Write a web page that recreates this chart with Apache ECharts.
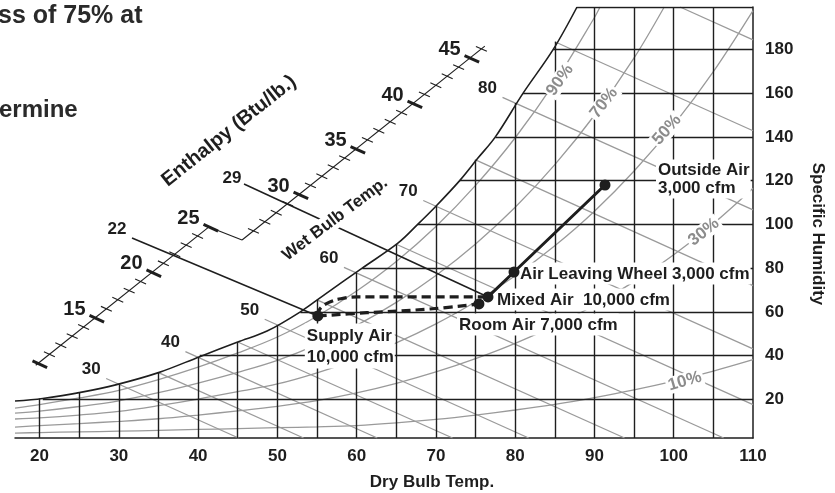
<!DOCTYPE html>
<html>
<head>
<meta charset="utf-8">
<script src="https://cdn.jsdelivr.net/npm/echarts@6/dist/echarts.min.js"></script>
<style>
html,body{margin:0;padding:0;background:#fff;}
#chart{width:835px;height:493px;}
</style>
</head>
<body>
<div id="chart"></div>
<script>
// ---------------- DATA ----------------
const xTickLabels = [20, 30, 40, 50, 60, 70, 80, 90, 100, 110];
const yTickLabels = [20, 40, 60, 80, 100, 120, 140, 160, 180];

// dry-bulb grid lines: [dry bulb, humidity where the line meets the saturation curve]
const dryBulbGrid = [[20,20.4],[25,23.2],[30,26.9],[35,32.2],[40,39.2],[45,46.2],[50,54],[55,65.5],[60,77.7],[65,90.9],[70,108.3],[75,129.5],[80,155.5],[85,183.5],[90,199.4],[95,199.4],[100,199.4],[105,199.4]];
// specific-humidity grid lines: [humidity, dry bulb where the line leaves the saturation curve]
const humidityGrid = [[20,20.4],[40,40.2],[60,52.9],[80,60.7],[100,67.7],[120,73],[140,77.5],[160,81],[180,84.8]];

const saturationCurve = [[16.9,19.2],[20.4,20.4],[25.5,23.4],[29.6,26.6],[35,32.2],[40.2,39.5],[45,46.2],[48.7,51.2],[52.9,60],[56,68],[60.7,80],[65.2,91.4],[67.7,100],[70,108.3],[73,120],[75.3,130.3],[77.5,140],[81,160],[84.8,180],[87.8,199.4]];

const rh90 = [[16.9,16],[20,17.6],[25,20.6],[30,24.1],[35,29],[40,34.7],[45,41.2],[50,48.5],[55,58],[60,69.5],[65,83],[70,99],[75,117.8],[80,139.6],[85,165],[90,194.6],[90.7,199.4]];
const rh70 = [[16.9,13.7],[20,14.6],[25,16.7],[30,19.3],[35,23],[40,27.4],[45,32.3],[50,37.8],[55,45],[60,53.8],[65,64.3],[70,76.6],[75,91],[80,107.8],[85,127.3],[90,149.9],[95,176.1],[98.8,199.4]];
const rh50 = [[16.9,11],[20,11.5],[25,12.8],[30,14.5],[35,17.1],[40,20.1],[45,23.5],[50,27],[55,32.1],[60,38.3],[65,45.8],[70,54.5],[75,64.6],[80,76.5],[85,90.2],[90,106],[95,124.4],[100,145.5],[105,169.8],[110,197.7]];
const rh30 = [[16.9,7.3],[20,8],[25,8.9],[30,9.9],[35,11.1],[40,12.8],[45,14.7],[50,16.8],[55,19.4],[60,22.9],[65,27.3],[70,32.5],[75,38.6],[80,45.6],[85,53.7],[90,63],[95,73.8],[100,86.1],[105,100.3],[110,116.5]];
const rh10 = [[16.9,4.5],[20,4.8],[25,5.1],[30,5.4],[35,5.8],[40,6.2],[45,6.6],[50,7],[55,7.4],[60,8],[65,9.2],[70,10.8],[75,12.8],[80,15.1],[85,17.7],[90,20.8],[95,24.3],[100,28.3],[105,32.9],[110,38.1]];
const rhCurves = [rh10, rh30, rh50, rh70, rh90];
const rhLabels = ['10%', '30%', '50%', '70%', '90%'];
const rhLabelPoints = [[101.4,28.2],[103.8,96.5],[99.15,143.2],[91.2,155.5],[85.65,166]];

const wetBulbTemps  = [30, 35, 40, 45, 50, 55, 60, 65, 70, 75, 80, 85, 90];
const wetBulbStarts = [[28.4,29.5],[35,32.2],[38.4,41.8],[45,46.2],[48.4,56.6],[55,65.5],[58.4,80.3],[65,90.9],[68.4,110.9],[75,129.5],[78.4,158.1],[85,183.5],[100.8,199.4]];
const wetBulbEnds   = [[45.1,2.3],[53.3,2.3],[62.6,2.3],[72.1,2.3],[81.7,2.3],[93.8,2.3],[106.3,2.3],[110,17.6],[110,43.1],[110,72],[110,106.6],[110,142.8],[110,184.4]];
const wetBulbLabelled = [30, 40, 50, 60, 70, 80];

const enthalpyLowerRange = [10, 25];
const enthalpyUpperRange = [25, 46];
const enthalpyLabels = [15, 20, 25, 30, 35, 40, 45];

const enthalpyLineNames  = ['22', '29'];
const enthalpyLineStarts = [[31.66,93.76],[45.79,118.46]];

const pointNames  = ['Supply Air', 'Room Air', 'Mixed Air', 'Air Leaving Wheel', 'Outside Air'];
const pointValues = [[55.1,58.1],[75.43,63.6],[76.57,66.8],[79.85,78.2],[91.33,118]];
const annotationLabels = ['Supply Air\n10,000 cfm', 'Room Air 7,000 cfm', 'Mixed Air  10,000 cfm', 'Air Leaving Wheel 3,000 cfm', 'Outside Air\n3,000 cfm'];

const supplyToMixed = [[55.1,58.1],[55.4,61.5],[56.5,64.3],[58,66],[60.1,66.8],[76.57,66.8]];
const supplyToRoom  = [[55.1,58.1],[61.3,59.6],[69.25,61.3],[75.43,63.6]];

// ---------------- LAYOUT / STYLE ----------------
const X_MIN = 16.9, X_MAX = 110, Y_MIN = 2.3, Y_MAX = 199.4;
const SCALE = { lowerStart: [19.8, 36.4], upperStart: [45.54, 92.85], perUnit: [1.438, 4.1615], upperEnd: 46.3 };
const FONT = '"Liberation Sans", Arial, Helvetica, sans-serif';
const INK = '#1e1e1e';
const GRAY = '#9a9a9a';
const GRAY_TEXT = '#8c8c8c';

const lowerAt = v => [SCALE.lowerStart[0] + (v - 10) * SCALE.perUnit[0], SCALE.lowerStart[1] + (v - 10) * SCALE.perUnit[1]];
const upperAt = v => [SCALE.upperStart[0] + (v - 25) * SCALE.perUnit[0], SCALE.upperStart[1] + (v - 25) * SCALE.perUnit[1]];
const seg = (a, b) => ({ coords: [a, b] });

// black grid + frame
const gridSegs = [];
dryBulbGrid.forEach(([t, top]) => gridSegs.push(seg([t, Y_MIN], [t, top])));
humidityGrid.forEach(([w, t0]) => gridSegs.push(seg([t0, w], [X_MAX, w])));
gridSegs.push(seg([saturationCurve[saturationCurve.length - 1][0], Y_MAX], [X_MAX, Y_MAX]));

// wet bulb lines
const wetSegs = wetBulbTemps.map((t, i) => seg(wetBulbStarts[i], wetBulbEnds[i]));

// enthalpy scale lines and problem enthalpy lines
const scaleSegs = [
  seg(lowerAt(9.8), lowerAt(25)),
  seg(lowerAt(25), upperAt(25)),
  seg(upperAt(25), upperAt(SCALE.upperEnd))
];
const enthSegs = [
  seg(enthalpyLineStarts[0], pointValues[0]),
  seg(enthalpyLineStarts[1], pointValues[2])
];

const tickData = [];
for (let v = enthalpyLowerRange[0]; v <= enthalpyLowerRange[1]; v++) {
  const p = lowerAt(v), maj = v % 5 === 0;
  tickData.push([p[0], p[1], maj ? 1 : 0, enthalpyLabels.includes(v) ? v : 0]);
}
for (let v = enthalpyUpperRange[0] + 1; v <= enthalpyUpperRange[1]; v++) {
  const p = upperAt(v), maj = v % 5 === 0;
  tickData.push([p[0], p[1], maj ? 1 : 0, enthalpyLabels.includes(v) ? v : 0]);
}

// text marks
const rhRot = [16, 39, 49, 52, 55];
const textMarks = [];
rhLabels.forEach((s, i) => textMarks.push({
  value: rhLabelPoints[i],
  label: { formatter: s, rotate: rhRot[i], color: GRAY_TEXT, fontSize: 17, backgroundColor: '#fff', padding: [0, 2] }
}));
wetBulbTemps.forEach((t, i) => {
  if (wetBulbLabelled.includes(t)) textMarks.push({
    value: wetBulbStarts[i],
    label: { formatter: String(t), offset: [-15, -9], fontSize: 17 }
  });
});
enthalpyLineNames.forEach((s, i) => textMarks.push({
  value: enthalpyLineStarts[i],
  label: { formatter: s, offset: i === 0 ? [-15, -8.5] : [-12, -6], fontSize: 17 }
}));
textMarks.push({ value: [43.9, 142.7], label: { formatter: 'Enthalpy (Btu/lb.)', rotate: 38.6, fontSize: 20 } });
textMarks.push({ value: [57.27, 102.45], label: { formatter: 'Wet Bulb Temp.', rotate: 37, fontSize: 17, backgroundColor: '#fff', padding: [1, 3] } });

const annotOffsets = [[-13, 7.5], [-22, 9.5], [7, -8.5], [4, -9.5], [51, -25.5]];
const annotLineHeight = [21, 19, 19, 19, 18];
const annotData = pointValues.map((p, i) => ({
  name: pointNames[i],
  value: p,
  label: { formatter: annotationLabels[i], offset: annotOffsets[i], lineHeight: annotLineHeight[i] }
}));

const curveSeries = rhCurves.map(c => ({
  type: 'line', data: c, smooth: 0.35, showSymbol: false, symbol: 'none', silent: true, z: 1,
  lineStyle: { color: GRAY, width: 1.3 }, animation: false
}));

const option = {
  animation: false,
  backgroundColor: '#fff',
  grid: { left: 15, right: 82, top: 7, bottom: 55, containLabel: false },
  xAxis: {
    type: 'value', min: X_MIN, max: X_MAX,
    axisLine: { show: true, onZero: false, lineStyle: { color: INK, width: 1.5 } },
    axisTick: { show: false },
    splitLine: { show: false },
    axisLabel: { customValues: xTickLabels, margin: 10, fontSize: 17, fontWeight: 'bold', fontFamily: FONT, color: INK }
  },
  yAxis: {
    type: 'value', min: Y_MIN, max: Y_MAX, position: 'right',
    axisLine: { show: true, onZero: false, lineStyle: { color: INK, width: 1.5 } },
    axisTick: { show: false },
    splitLine: { show: false },
    axisLabel: { customValues: yTickLabels, margin: 12, fontSize: 17, fontWeight: 'bold', fontFamily: FONT, color: INK }
  },
  graphic: [
    { type: 'text', x: -2, y: 16, style: { text: 'ss of 75% at', font: 'bold 25px ' + FONT, fill: '#2a2a2a', textAlign: 'left', textVerticalAlign: 'middle', align: 'left', verticalAlign: 'middle' } },
    { type: 'text', x: -1, y: 110, style: { text: 'ermine', font: 'bold 24px ' + FONT, fill: '#2a2a2a', textAlign: 'left', textVerticalAlign: 'middle', align: 'left', verticalAlign: 'middle' } },
    { type: 'text', x: 432, y: 482, style: { text: 'Dry Bulb Temp.', font: 'bold 17px ' + FONT, fill: INK, textAlign: 'center', textVerticalAlign: 'middle', align: 'center', verticalAlign: 'middle' } },
    { type: 'text', x: 818, y: 234, rotation: -Math.PI / 2, style: { text: 'Specific Humidity', font: 'bold 17px ' + FONT, fill: INK, textAlign: 'center', textVerticalAlign: 'middle', align: 'center', verticalAlign: 'middle' } }
  ],
  series: [
    ...curveSeries,
    { type: 'lines', coordinateSystem: 'cartesian2d', polyline: false, silent: true, z: 1, animation: false,
      lineStyle: { color: GRAY, width: 1.3, opacity: 1 }, data: wetSegs },
    { type: 'lines', coordinateSystem: 'cartesian2d', polyline: false, silent: true, z: 2, animation: false,
      lineStyle: { color: INK, width: 1.4, opacity: 1 }, data: gridSegs },
    { type: 'line', data: saturationCurve, smooth: 0.35, showSymbol: false, symbol: 'none', silent: true, z: 3,
      lineStyle: { color: INK, width: 1.6 } },
    { type: 'lines', coordinateSystem: 'cartesian2d', polyline: false, silent: true, z: 3, animation: false,
      lineStyle: { color: INK, width: 1.1, opacity: 1 }, data: scaleSegs },
    { type: 'lines', coordinateSystem: 'cartesian2d', polyline: false, silent: true, z: 3, animation: false,
      lineStyle: { color: INK, width: 1.5, opacity: 1 }, data: enthSegs },
    { type: 'custom', coordinateSystem: 'cartesian2d', silent: true, z: 3, clip: false,
      encode: { x: 0, y: 1 }, data: tickData,
      renderItem: function (params, api) {
        const p = api.coord([api.value(0), api.value(1)]);
        const major = api.value(2) === 1;
        const lab = api.value(3);
        const d = [0.912, 0.41];
        const a = -6, b = major ? 10 : 6;
        const children = [{
          type: 'line',
          shape: { x1: p[0] + a * d[0], y1: p[1] + a * d[1], x2: p[0] + b * d[0], y2: p[1] + b * d[1] },
          style: { stroke: INK, lineWidth: major ? 3 : 1.1 }
        }];
        if (lab) children.push({
          type: 'text', x: p[0] - 20.5, y: p[1] - 8.5,
          style: { text: String(lab), font: 'bold 20px ' + FONT, fill: INK, align: 'center', verticalAlign: 'middle', textAlign: 'center', textVerticalAlign: 'middle' }
        });
        return { type: 'group', children: children };
      }
    },
    { type: 'scatter', data: textMarks, symbolSize: 1, silent: true, z: 5,
      itemStyle: { color: 'transparent', opacity: 1 },
      label: { show: true, position: 'inside', color: INK, opacity: 1, fontFamily: FONT, fontWeight: 'bold', align: 'center', verticalAlign: 'middle' } },
    { type: 'scatter', data: annotData, symbolSize: 1, silent: true, z: 5,
      itemStyle: { color: 'transparent', opacity: 1 },
      label: { show: true, position: 'inside', color: INK, opacity: 1, fontFamily: FONT, fontWeight: 'bold', fontSize: 17,
        align: 'left', verticalAlign: 'top', backgroundColor: '#fff', padding: [2, 1, 1, 2] } },
    { type: 'line', data: supplyToMixed, smooth: 0.4, showSymbol: false, symbol: 'none', silent: true, z: 6,
      lineStyle: { color: INK, width: 3.2, type: [9, 5] } },
    { type: 'line', data: supplyToRoom, smooth: 0.4, showSymbol: false, symbol: 'none', silent: true, z: 6,
      lineStyle: { color: INK, width: 3.2, type: [9, 5] } },
    { type: 'line', data: [pointValues[2], pointValues[3], pointValues[4]], showSymbol: false, symbol: 'none', silent: true, z: 6,
      lineStyle: { color: INK, width: 3 } },
    { type: 'scatter', data: pointValues, symbolSize: 11, silent: true, z: 7,
      itemStyle: { color: INK, opacity: 1 } }
  ]
};

const chart = echarts.init(document.getElementById('chart'), null, { renderer: 'canvas' });
chart.setOption(option);
</script>
</body>
</html>
